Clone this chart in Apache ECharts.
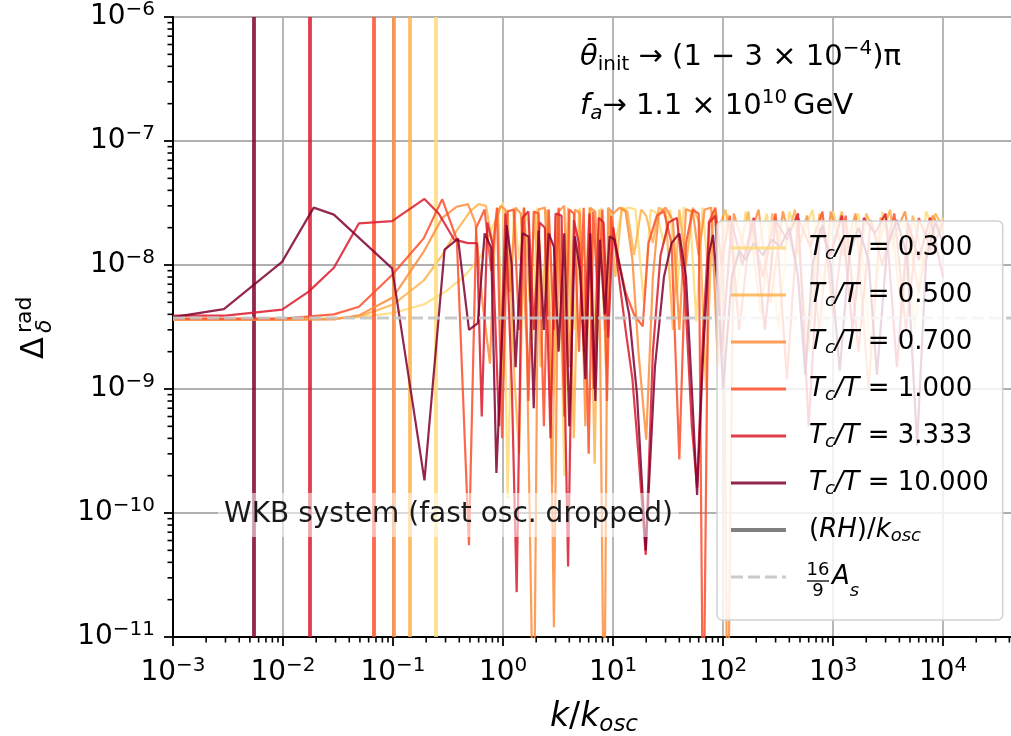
<!DOCTYPE html>
<html>
<head>
<meta charset="utf-8">
<script src="https://cdn.jsdelivr.net/npm/echarts@6/dist/echarts.min.js"></script>
<style>
  html, body { margin: 0; padding: 0; background: #ffffff; }
  #chart { width: 1011px; height: 736px; }
</style>
</head>
<body>
<div id="chart"></div>
<script>
// Radiation density contrast spectra for several Tc/T values (log-log).
const K_MIN = 1e-3, K_MAX = 4.5e4;
const D_MIN = 1e-11, D_MAX = 1e-6;

const tcLabels = ['0.300', '0.500', '0.700', '1.000', '3.333', '10.000'];
const tcColors = ['#fed976', '#feb24c', '#fd8d3c', '#fc4e2a', '#dc1a2c', '#800030'];
// (RH)/k_osc for each Tc/T, drawn as full-height vertical lines
const rhK = [0.244, 0.142, 0.1014, 0.0671, 0.0175, 0.00542];
// 16/9 * A_s reference level
const asLevel = 3.73e-9;

// [k/k_osc, Delta] pairs, one array per Tc/T
const tc0300 = [[0.001,3.7e-9],[0.003,3.7e-9],[0.01,3.7e-9],[0.03,3.72e-9],[0.05,3.8e-9],[0.1,4.1e-9],[0.19,4.8e-9],[0.3,6.1e-9],[0.45,8.2e-9],[0.62,1.15e-8],[0.8,2.0e-8],[1.0,3.2e-8],[1.1,1.3e-10],[1.25,2.9e-8],[1.4,1.1e-8],[1.55,2.9e-8],[1.7,2.1e-8],[1.85,2.5e-9],[2.05,2.9e-8],[2.3,6e-9],[2.6,2.8e-8],[2.9,9e-10],[3.2,2.8e-8],[3.6,2.0e-10],[4.0,2.7e-8],[4.5,3e-9],[5.0,2.9e-8],[5.6,1.5e-9],[6.3,2.8e-8],[7.0,1.2e-9],[7.8,2.9e-8],[8.6,1.5e-9],[9.5,2.8e-8],[10.5,1.5e-8],[12,2.8e-8],[14,2.9e-8],[16,2.8e-8],[19,5e-9],[22,2.8e-8],[25,2.6e-8],[29,1.5e-8],[33,2.8e-8],[38,6e-9],[44,2.9e-8],[50,2.7e-8],[57,3.5e-9],[65,2.9e-8],[74,8e-9],[84,2.8e-8],[95,1e-8],[110,2.6e-8],[130,5e-9],[160,2.7e-8],[200,1.2e-8],[250,2.6e-8],[320,3e-9],[400,2.7e-8],[500,1.5e-8],[650,2.8e-8],[800,6e-9],[1000,2.7e-8],[1300,1.1e-8],[1700,2.6e-8],[2200,2e-9],[2800,2.7e-8],[3500,1.4e-8],[4500,2.2e-8],[5500,3e-9],[7000,2.7e-8],[8500,1.8e-8],[10000,2.4e-8]];

const tc0500 = [[0.001,3.65e-9],[0.01,3.65e-9],[0.03,3.7e-9],[0.05,3.85e-9],[0.1,4.8e-9],[0.19,7.5e-9],[0.28,1.2e-8],[0.38,1.9e-8],[0.5,2.7e-8],[0.6,3.1e-8],[0.7,3.0e-8],[0.8,1.5e-8],[0.9,2.9e-8],[1.0,1.2e-9],[1.1,2.8e-8],[1.27,1.2e-9],[1.4,3e-10],[1.55,2.9e-8],[1.75,5e-9],[1.95,2.7e-8],[2.2,1.5e-9],[2.5,2.8e-8],[2.8,1.7e-10],[3.1,2.6e-8],[3.5,2.2e-9],[3.9,2.9e-8],[4.4,4e-10],[4.9,2.8e-8],[5.5,4e-9],[6.1,2.9e-8],[6.8,2.5e-10],[7.5,2.8e-8],[8.4,3e-9],[9.3,2.7e-8],[10.5,8e-9],[12,2.9e-8],[13.5,2.7e-8],[15.5,1.2e-8],[18,2.8e-8],[20,2.5e-8],[23,1.5e-8],[26,2.9e-8],[30,2.7e-8],[35,3e-9],[40,2.8e-8],[46,1e-8],[53,2.9e-8],[61,2.2e-8],[70,1e-9],[80,2.7e-8],[92,2e-8],[105,2.8e-8],[130,1e-8],[170,2.7e-8],[220,4e-9],[280,2.6e-8],[360,1.3e-8],[450,2.8e-8],[600,2e-9],[750,2.6e-8],[950,1.2e-8],[1200,2.7e-8],[1600,5e-9],[2000,2.6e-8],[2600,1.5e-8],[3300,2.8e-8],[4200,4e-9],[5300,2.5e-8],[6700,1e-8],[8500,2.6e-8],[10000,2e-8]];

const tc0700 = [[0.001,3.6e-9],[0.01,3.6e-9],[0.03,3.65e-9],[0.05,3.95e-9],[0.1,5.5e-9],[0.19,1.28e-8],[0.28,2.4e-8],[0.38,2.95e-8],[0.48,3.1e-8],[0.56,2.2e-8],[0.65,5e-9],[0.76,1.6e-9],[0.85,2.2e-8],[0.95,3.0e-8],[1.05,2.8e-8],[1.15,6e-9],[1.3,2.9e-8],[1.45,2.6e-8],[1.65,2e-9],[1.9,1e-12],[2.1,2.8e-8],[2.4,2.9e-8],[2.65,4e-9],[2.9,1.2e-11],[3.2,2.7e-8],[3.6,3.0e-8],[4.0,1.5e-9],[4.5,2.8e-8],[5.0,2.6e-8],[5.6,5e-10],[6.2,2.9e-8],[6.9,2.7e-8],[7.6,3e-9],[8.3,1e-12],[9.0,2.9e-8],[10,2.6e-8],[11.5,2.9e-8],[13,2.7e-8],[15,1.1e-8],[17,2e-9],[20,3.9e-10],[23,8e-9],[26,2.6e-8],[30,2.9e-8],[35,2.3e-8],[40,3e-9],[46,2.8e-8],[53,2.7e-8],[60,1.2e-8],[68,2.8e-8],[78,2.9e-8],[90,1.5e-9],[100,2.5e-8],[110,1e-12],[125,2.6e-8],[160,1.3e-8],[210,2.8e-8],[270,5e-9],[350,2.7e-8],[450,1.1e-8],[580,2.5e-8],[750,3e-9],[950,2.7e-8],[1250,1.2e-8],[1600,2.6e-8],[2100,1e-9],[2700,2.4e-8],[3500,1.6e-8],[4500,2.7e-8],[6000,6e-9],[8000,2.5e-8],[10000,1.8e-8]];

const tc1000 = [[0.001,3.7e-9],[0.01,3.7e-9],[0.029,4.0e-9],[0.049,4.6e-9],[0.098,8.3e-9],[0.19,1.64e-8],[0.28,3.4e-8],[0.38,1.6e-8],[0.49,5.5e-11],[0.57,2.0e-8],[0.68,2.8e-8],[0.78,9e-9],[0.88,2.9e-8],[0.98,4e-10],[1.1,2.7e-8],[1.25,2.8e-8],[1.4,3e-9],[1.55,2.9e-8],[1.7,8e-10],[1.9,2.7e-8],[2.1,2.6e-8],[2.35,5e-10],[2.6,2.8e-8],[2.9,3e-9],[3.2,2.9e-8],[3.6,6e-10],[4.0,2.8e-8],[4.4,2.6e-8],[4.9,2e-9],[5.4,2.9e-8],[6.0,3e-10],[6.6,2.7e-8],[7.3,5e-9],[8.0,2.8e-8],[8.8,8e-10],[9.6,2.5e-8],[11,1.2e-8],[13,6e-9],[15.5,4e-9],[18.6,3.2e-9],[21,1.5e-8],[25,2.5e-8],[29,2.7e-8],[34,1.5e-8],[40,2.7e-10],[46,1.5e-8],[53,2.8e-8],[60,2.6e-8],[66,1e-12],[74,2.2e-8],[85,2.9e-8],[97,1e-8],[115,2.5e-8],[140,3e-9],[180,2.2e-8],[230,8e-9],[300,2.6e-8],[380,1.2e-9],[480,2.4e-8],[620,1.4e-8],[800,2.7e-8],[1000,4e-9],[1300,2.5e-8],[1700,2e-9],[2200,2.3e-8],[2800,1e-8],[3600,2.6e-8],[4600,3e-9],[6000,2.4e-8],[7800,1.3e-8],[10000,2.2e-8]];

const tc3333 = [[0.001,3.9e-9],[0.003,3.9e-9],[0.0098,4.36e-9],[0.0171,6.1e-9],[0.029,9.5e-9],[0.049,2.17e-8],[0.098,2.26e-8],[0.193,3.41e-8],[0.26,2.6e-8],[0.36,1.6e-8],[0.48,1.5e-8],[0.58,1.5e-8],[0.64,6e-10],[0.72,2.2e-8],[0.8,1.5e-8],[0.92,5e-10],[1.05,2.6e-8],[1.2,1.1e-9],[1.33,2.3e-11],[1.5,2.4e-8],[1.7,2.7e-8],[1.9,3e-9],[2.15,2.2e-8],[2.4,2e-8],[2.7,4e-10],[3.0,2.6e-8],[3.4,2.5e-8],[3.9,3.7e-11],[4.4,2.3e-8],[4.9,1.5e-8],[5.5,2e-9],[6.1,2.6e-8],[6.7,1e-9],[7.4,2.4e-8],[8.2,2.2e-8],[9,2.6e-9],[10,2.0e-8],[11.5,7e-9],[13,3e-9],[15,1.2e-9],[17,3e-10],[19.8,4.6e-11],[23,2e-9],[27,1.2e-8],[32,2.2e-8],[38,2.4e-8],[45,6e-9],[52,5e-10],[58,1.6e-10],[66,3e-9],[75,2.2e-8],[85,2.5e-8],[97,2e-9],[120,2.2e-8],[150,1e-8],[190,2.4e-8],[240,3e-9],[300,2.3e-8],[380,1.6e-8],[480,2.6e-8],[600,5e-10],[760,2e-8],[950,1.2e-8],[1200,2.5e-8],[1500,3e-9],[1900,2.4e-8],[2400,1.8e-8],[3000,2.6e-8],[3800,1.5e-9],[4800,2.2e-8],[6000,1.1e-8],[7600,2.4e-8],[10000,8e-9]];

const tc10000 = [[0.001,3.8e-9],[0.0029,4.4e-9],[0.0098,1.06e-8],[0.019,2.9e-8],[0.029,2.55e-8],[0.098,9.4e-9],[0.193,1.83e-10],[0.294,1.33e-8],[0.39,1.63e-8],[0.49,3.0e-9],[0.59,3.4e-9],[0.68,1.8e-8],[0.78,1.38e-8],[0.87,2.1e-10],[1.08,2.1e-8],[1.2,1.0e-8],[1.3,1.5e-9],[1.5,1.8e-8],[1.7,1.7e-8],[1.9,7e-10],[2.1,1.9e-8],[2.35,3e-9],[2.6,1.8e-8],[2.9,1.4e-8],[3.2,2e-9],[3.6,1.8e-8],[4.0,5e-10],[4.5,1.7e-8],[5.0,9e-9],[5.6,1.2e-9],[6.2,1.8e-8],[6.9,8e-10],[7.6,1.6e-8],[8.4,4e-9],[9.3,1.7e-8],[10.3,1.6e-8],[12,8e-9],[14,4e-9],[16.5,9e-10],[19.8,5e-11],[24,1.5e-9],[29,8e-9],[34,1.5e-8],[40,1.8e-8],[46,8e-9],[52,1e-9],[58,1.4e-10],[66,2e-9],[74,1.2e-8],[81,1.75e-8],[90,6e-9],[100,1e-9],[120,8e-9],[140,1.3e-8],[160,1.1e-8],[190,1.5e-8],[230,1.2e-8],[280,1.6e-8],[330,1.4e-8],[400,2e-8],[480,8e-9],[560,1.3e-9],[650,1e-8],[800,2.1e-8],[950,1e-8],[1150,1.4e-9],[1400,1.2e-8],[1700,2e-8],[2100,1.1e-8],[2500,1.3e-9],[3100,1.4e-8],[3800,2.3e-8],[4700,1.2e-8],[5800,3.5e-10],[7000,1.1e-8],[8500,2.2e-8],[10000,1.5e-8]];

const spectra = [tc0300, tc0500, tc0700, tc1000, tc3333, tc10000];

// decade exponents and minor multipliers for the log tick marks
const xDecades = [-3, -2, -1, 0, 1, 2, 3, 4];
const yDecades = [-11, -10, -9, -8, -7];
const minorSteps = [2, 3, 4, 5, 6, 7, 8, 9];

const FONT = 'DejaVu Sans';

const minorTicks = [];
xDecades.forEach(e => minorSteps.forEach(m => {
  const k = m * Math.pow(10, e);
  if (k < K_MAX) minorTicks.push([k, D_MIN, 0]);
}));
yDecades.forEach(e => minorSteps.forEach(m => {
  minorTicks.push([K_MIN, m * Math.pow(10, e), 1]);
}));

function powLabel(v) {
  const lg = Math.log10(v);
  const e = Math.round(lg);
  if (Math.abs(lg - e) > 1e-6) return '';
  const s = e < 0 ? '\u2212' + (-e) : String(e);
  return '{b|10}{p|' + s + '}';
}

const tickRich = {
  b: { fontFamily: FONT, fontSize: 28, lineHeight: 34, color: '#000' },
  p: { fontFamily: FONT, fontSize: 20, lineHeight: 20, verticalAlign: 'top', color: '#000' }
};

const mathRich = {
  n: { fontFamily: FONT, fontSize: 26, lineHeight: 30, color: '#000' },
  i: { fontFamily: FONT, fontStyle: 'italic', fontSize: 26, lineHeight: 30, color: '#000' },
  sb: { fontFamily: FONT, fontStyle: 'italic', fontSize: 18, lineHeight: 18, verticalAlign: 'bottom', color: '#000' },
  g: { fontFamily: FONT, fontSize: 26, lineHeight: 46, width: 23, color: '#000' }
};

const series = [];
spectra.forEach((d, i) => {
  series.push({
    name: 'Tc/T = ' + tcLabels[i],
    type: 'line',
    data: d,
    symbol: 'none',
    z: 3 + i,
    color: tcColors[i],
    lineStyle: { color: tcColors[i], width: 2.2, opacity: 0.85 },
    emphasis: { disabled: true },
    markLine: {
      symbol: 'none',
      silent: true,
      animation: false,
      precision: 8,
      label: { show: false },
      emphasis: { disabled: true },
      lineStyle: { color: tcColors[i], width: 3.8, type: 'solid', opacity: 0.85 },
      data: [{ xAxis: rhK[i] }]
    }
  });
});

// legend entry for the vertical horizon-crossing lines
series.push({
  name: '(RH)/k_osc',
  type: 'line',
  data: [],
  symbol: 'none',
  color: '#808080',
  lineStyle: { color: '#808080', width: 3.8 }
});

series.push({
  name: '16/9 A_s',
  type: 'line',
  data: [[K_MIN, asLevel], [K_MAX, asLevel]],
  symbol: 'none',
  z: 10,
  color: '#c4c4c4',
  lineStyle: { color: '#c4c4c4', width: 3, type: [12, 5], opacity: 0.9 },
  emphasis: { disabled: true }
});

// minor log ticks on both axes
series.push({
  type: 'custom',
  silent: true,
  clip: false,
  z: 11,
  data: minorTicks,
  encode: { x: 0, y: 1 },
  renderItem: function (params, api) {
    const flag = api.value(2);
    if (flag === 0) {
      const p = api.coord([api.value(0), D_MIN]);
      return { type: 'line', shape: { x1: p[0], y1: p[1], x2: p[0], y2: p[1] + 5.5 },
               style: { stroke: '#000', lineWidth: 1.6 } };
    }
    const p = api.coord([K_MIN, api.value(1)]);
    return { type: 'line', shape: { x1: p[0] - 5.5, y1: p[1], x2: p[0], y2: p[1] },
             style: { stroke: '#000', lineWidth: 1.6 } };
  }
});

function legendText(name) {
  if (name.indexOf('Tc/T') === 0) {
    return '{i|T}{sb|c}{i|/T}{n| = ' + name.split('= ')[1] + '}';
  }
  if (name === '(RH)/k_osc') return '{n|(}{i|RH}{n|)/}{i|k}{sb|osc}';
  return '{g|\u00a0}{i|A}{sb|s}';
}

const legendData = series.filter(s => s.name).map(s => {
  if (s.name === '(RH)/k_osc') return { name: s.name, lineStyle: { width: 4 } };
  if (s.name === '16/9 A_s') return { name: s.name, lineStyle: { width: 3 } };
  return { name: s.name };
});

const annRich = {
  n: { fontFamily: FONT, fontSize: 29, lineHeight: 36, fill: '#000' },
  i: { fontFamily: FONT, fontStyle: 'italic', fontSize: 29, lineHeight: 36, fill: '#000' },
  sb: { fontFamily: FONT, fontSize: 20, lineHeight: 20, verticalAlign: 'bottom', fill: '#000' },
  si: { fontFamily: FONT, fontStyle: 'italic', fontSize: 20, lineHeight: 20, verticalAlign: 'bottom', fill: '#000' },
  p: { fontFamily: FONT, fontSize: 20, lineHeight: 20, verticalAlign: 'top', fill: '#000' }
};

const chart = echarts.init(document.getElementById('chart'));
chart.setOption({
  animation: false,
  backgroundColor: '#ffffff',
  textStyle: { fontFamily: FONT },
  grid: {
    left: 173, right: -4, top: 17, bottom: 99,
    outerBoundsMode: 'none', containLabel: false,
    show: true, borderColor: '#000', borderWidth: 2, backgroundColor: 'transparent'
  },
  xAxis: {
    type: 'log', logBase: 10, min: K_MIN, max: K_MAX, interval: 1,
    name: '{i|k}{n|/}{i|k}{sb|osc}',
    nameLocation: 'middle', nameGap: 60,
    nameTextStyle: { rich: {
      n: { fontFamily: FONT, fontSize: 33, lineHeight: 40, color: '#000' },
      i: { fontFamily: FONT, fontStyle: 'italic', fontSize: 33, lineHeight: 40, color: '#000' },
      sb: { fontFamily: FONT, fontStyle: 'italic', fontSize: 23, lineHeight: 23, verticalAlign: 'bottom', color: '#000' }
    } },
    axisLine: { show: true, lineStyle: { color: '#000', width: 2 } },
    axisTick: { show: true, inside: false, length: 9, lineStyle: { color: '#000', width: 1.8 } },
    axisLabel: { margin: 19, formatter: powLabel, rich: tickRich, hideOverlap: false },
    splitLine: { show: true, lineStyle: { color: '#b0b0b0', width: 1.8 } },
    minorTick: { show: false }
  },
  yAxis: {
    type: 'log', logBase: 10, min: D_MIN, max: D_MAX, interval: 1,
    axisLine: { show: true, lineStyle: { color: '#000', width: 2 } },
    axisTick: { show: true, inside: false, length: 9, lineStyle: { color: '#000', width: 1.8 } },
    axisLabel: { margin: 18, formatter: powLabel, rich: tickRich },
    splitLine: { show: true, lineStyle: { color: '#b0b0b0', width: 1.8 } }
  },
  legend: {
    orient: 'vertical',
    left: 717, top: 221, z: 30,
    padding: [14, 14, 20, 12],
    itemWidth: 55, itemHeight: 14, itemGap: 19,
    itemStyle: { opacity: 0 },
    lineStyle: { width: 2.8 },
    backgroundColor: 'rgba(255,255,255,0.82)',
    borderColor: '#d2d2d2', borderWidth: 1.5, borderRadius: 5,
    selectedMode: false,
    data: legendData,
    formatter: legendText,
    textStyle: { fontFamily: FONT, fontSize: 26, color: '#000', padding: [0, 0, 0, 18], rich: mathRich }
  },
  graphic: [
    {
      type: 'text', x: 580, y: 57, z: 100,
      style: {
        text: '{i|\u03b8\u0304}{sb|init}{n| \u2192 (1 \u2212 3 \u00d7 10}{p|\u22124}{n|)\u03c0}',
        verticalAlign: 'middle', align: 'left',
        rich: annRich
      }
    },
    {
      type: 'text', x: 580, y: 106, z: 100,
      style: {
        text: '{i|f}{si|a}{n|\u2192 1.1 \u00d7 10}{p|10}{n|\u2009GeV}',
        verticalAlign: 'middle', align: 'left',
        rich: annRich
      }
    },
    {
      type: 'text', left: 218, top: 493, z: 100,
      style: {
        text: 'WKB system (fast osc. dropped)',
        fontFamily: FONT, fontSize: 28, lineHeight: 36, fill: '#1a1a1a',
        backgroundColor: 'rgba(255,255,255,0.55)', padding: [4, 6]
      }
    },
    {
      // y-axis title, rotated to read upward
      type: 'group', x: 35, y: 327, rotation: Math.PI / 2, z: 100,
      children: [
        { type: 'text', x: -32, y: 0, z: 100, style: { text: '\u0394', fontFamily: FONT, fontSize: 32, fill: '#000', verticalAlign: 'middle', align: 'left' } },
        { type: 'text', x: -6, y: -10, z: 100, style: { text: 'rad', fontFamily: FONT, fontSize: 22, fill: '#000', verticalAlign: 'middle', align: 'left' } },
        { type: 'text', x: -6, y: 10, z: 100, style: { text: '\u03b4', fontFamily: FONT, fontStyle: 'italic', fontSize: 22, fill: '#000', verticalAlign: 'middle', align: 'left' } }
      ]
    },
    {
      // stacked 16/9 fraction for the A_s legend entry
      type: 'group', x: 818, y: 581, z: 100,
      children: [
        { type: 'text', x: 0, y: -11, z: 100, style: { text: '16', fontFamily: FONT, fontSize: 18, fill: '#000', align: 'center', verticalAlign: 'middle' } },
        { type: 'line', z: 100, shape: { x1: -11, y1: 0, x2: 11, y2: 0 }, style: { stroke: '#000', lineWidth: 1.3 } },
        { type: 'text', x: 0, y: 10, z: 100, style: { text: '9', fontFamily: FONT, fontSize: 18, fill: '#000', align: 'center', verticalAlign: 'middle' } }
      ]
    }
  ],
  series: series
});
</script>
</body>
</html>
